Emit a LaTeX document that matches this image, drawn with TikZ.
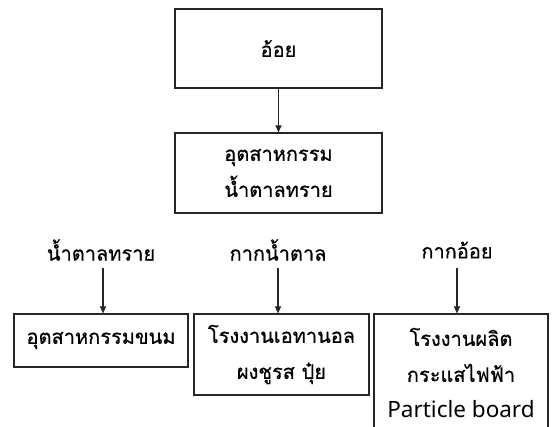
\documentclass[tikz,border=0pt]{standalone}
\usepackage{fontspec}
\setmainfont{Noto Sans}
\newfontfamily\thaifont[Script=Thai,FakeBold=0.6]{Loma}
\usetikzlibrary{arrows.meta}
\begin{document}
\begin{tikzpicture}[x=1pt,y=-1pt,
  boxnode/.style={draw=black!85,line width=1.1pt,inner sep=0pt,align=center,
    font=\thaifont\fontsize{20}{36}\selectfont},
  labelnode/.style={inner sep=0pt,font=\thaifont\fontsize{20}{36}\selectfont},
  arr/.style={draw=black!85,line width=1.1pt,-{Triangle[length=7pt,width=6pt]}}]
\useasboundingbox (0,0) rectangle (552,427);
\node[boxnode,minimum width=207pt,minimum height=79pt] (a) at (278.5,48.5) {อ้อย};
\node[boxnode,minimum width=207pt,minimum height=80pt] (b) at (278.5,173) {อุตสาหกรรม\\น้ำตาลทราย};
\node[labelnode] (l1) at (101,250) {น้ำตาลทราย};
\node[labelnode] (l2) at (278,250) {กากน้ำตาล};
\node[labelnode] (l3) at (457,250) {กากอ้อย};
\node[boxnode,minimum width=174pt,minimum height=53pt] (c) at (101,340.5) {อุตสาหกรรมขนม};
\node[boxnode,minimum width=175pt,minimum height=81pt] (d) at (281.5,354.5) {โรงงานเอทานอล\\ผงชูรส ปุ๋ย};
\node[boxnode,minimum width=174pt,minimum height=118pt] (e) at (461,373) {โรงงานผลิต\\กระแสไฟฟ้า\\{\fontspec{Noto Sans}\fontsize{22.5}{36}\selectfont Particle board}};
\draw[arr] (a) -- (b);
\coordinate (s1) at (103,268);
\coordinate (s2) at (278,268);
\coordinate (s3) at (457,268);
\draw[arr] (s1) -- (s1 |- c.north);
\draw[arr] (s2) -- (s2 |- d.north);
\draw[arr] (s3) -- (s3 |- e.north);
\end{tikzpicture}
\end{document}
